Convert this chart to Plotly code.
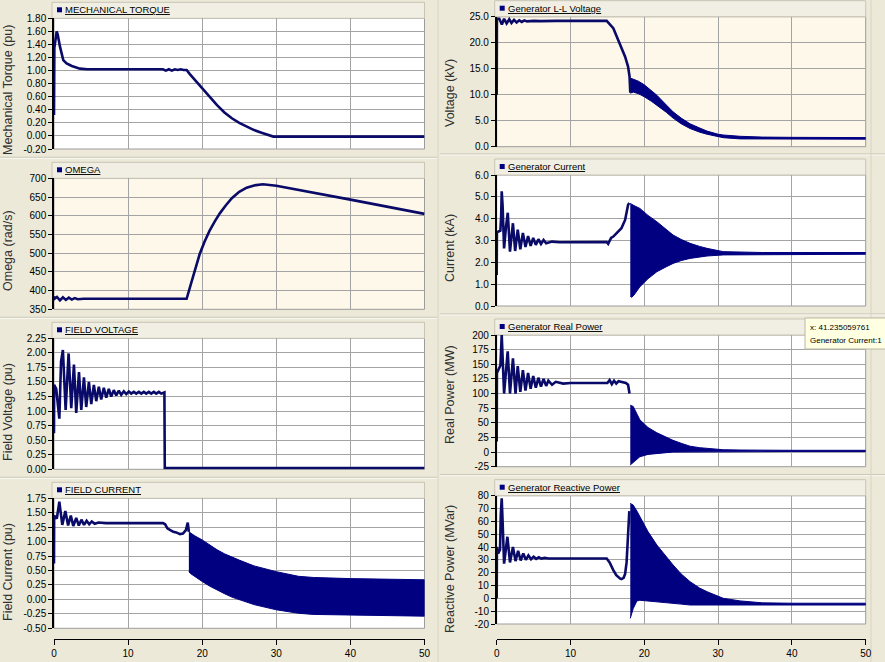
import plotly.graph_objects as go

# ---------------- data ----------------
x_ticks = [0, 10, 20, 30, 40, 50]
x_tick_labels = ["0", "10", "20", "30", "40", "50"]

# Mechanical torque (pu)
mt_t = [0, 0.05, 0.36, 0.5, 0.8, 1.0, 1.25, 1.7, 2.4, 3.5, 4.5, 6, 10, 14.7, 15.1, 15.5, 15.9, 16.3,
        16.7, 17.1, 17.5, 17.9, 18.3, 19, 20, 21, 22, 23, 24, 25, 26, 27, 28, 29, 29.6, 30, 40, 50]
mt_v = [0.32, 1.35, 1.60, 1.55, 1.37, 1.25, 1.16, 1.11, 1.07, 1.03, 1.02, 1.02, 1.02, 1.02, 1.00, 1.02,
        1.00, 1.02, 1.01, 1.02, 1.01, 1.01, 0.95, 0.86, 0.73, 0.59, 0.47, 0.36, 0.27, 0.20,
        0.14, 0.09, 0.05, 0.01, -0.01, -0.01, -0.01, -0.01]
mt_ticks = [-0.2, 0, 0.2, 0.4, 0.6, 0.8, 1.0, 1.2, 1.4, 1.6, 1.8]
mt_labels = ["-0.20", "0.00", "0.20", "0.40", "0.60", "0.80", "1.00", "1.20", "1.40", "1.60", "1.80"]

# Omega (rad/s)
om_t = [0, 0.05, 0.4, 0.8, 1.2, 1.6, 2.0, 2.4, 2.8, 3.2, 4, 6, 10, 17.9, 18.5, 19.0, 19.65, 20.3, 21.0,
        21.7, 22.4, 23.2, 24.0, 25.0, 26.0, 27.0, 28.2, 30, 33.1, 40, 50]
om_v = [385, 378, 383, 374, 382, 375, 381, 376, 380, 377, 378, 378, 378, 378, 419, 456, 497, 530, 560,
        585, 607, 628, 647, 664, 675, 681, 684, 680, 668, 643, 605]
om_ticks = [350, 400, 450, 500, 550, 600, 650, 700]
om_labels = ["350", "400", "450", "500", "550", "600", "650", "700"]

# Field voltage (pu)
fv_t = [0, 0.02, 0.3, 0.72, 0.95, 1.2, 1.57, 1.97, 2.33, 2.69, 3.0, 3.37, 3.68, 4.04, 4.35, 4.71, 5.03,
        5.38, 5.7, 6.05, 6.37, 6.72, 7.05, 7.4, 7.72, 8.07, 8.4, 8.75, 9.07, 9.42, 9.75, 10.1, 10.42,
        10.77, 11.1, 11.45, 11.78, 12.12, 12.45, 12.8, 13.12, 13.47, 13.8, 14.15, 14.47, 14.9, 14.95, 50]
fv_v = [0.62, 1.45, 1.38, 0.87, 1.85, 2.05, 1.02, 1.99, 1.05, 1.80, 0.97, 1.67, 1.02, 1.58, 1.07, 1.50,
        1.12, 1.45, 1.17, 1.42, 1.20, 1.40, 1.23, 1.38, 1.25, 1.36, 1.27, 1.35, 1.28, 1.34, 1.29, 1.335,
        1.30, 1.33, 1.30, 1.33, 1.30, 1.33, 1.30, 1.33, 1.30, 1.33, 1.30, 1.33, 1.30, 1.32, 0.02, 0.02]
fv_ticks = [0, 0.25, 0.5, 0.75, 1.0, 1.25, 1.5, 1.75, 2.0, 2.25]
fv_labels = ["0.00", "0.25", "0.50", "0.75", "1.00", "1.25", "1.50", "1.75", "2.00", "2.25"]

# Field current (pu)
fc_t = [0, 0.02, 0.38, 0.72, 1.12, 1.53, 1.9, 2.27, 2.6, 3.0, 3.35, 3.7, 4.05, 4.4, 4.75, 5.1, 5.5, 6,
        7, 8, 14.7, 15.0, 15.3, 15.7, 16.1, 16.5, 17.0, 17.4, 17.8, 18.05, 18.2]
fc_v = [0.62, 1.45, 1.40, 1.69, 1.29, 1.53, 1.28, 1.45, 1.27, 1.41, 1.28, 1.38, 1.29, 1.36, 1.30, 1.35,
        1.31, 1.33, 1.32, 1.32, 1.32, 1.30, 1.23, 1.20, 1.17, 1.16, 1.13, 1.14, 1.20, 1.33, 1.17]
fc_band_t = [18.2, 18.4, 19, 20, 21, 22, 23, 24, 25, 27, 30, 33, 35, 40, 45, 50]
fc_band_hi = [1.17, 1.15, 1.10, 1.03, 0.94, 0.86, 0.79, 0.73, 0.68, 0.58, 0.48, 0.40, 0.38, 0.36, 0.35, 0.34]
fc_band_lo = [0.48, 0.45, 0.39, 0.31, 0.23, 0.16, 0.10, 0.04, -0.01, -0.09, -0.18, -0.24, -0.26, -0.27,
              -0.28, -0.29]
fc_ticks = [-0.5, -0.25, 0, 0.25, 0.5, 0.75, 1.0, 1.25, 1.5, 1.75]
fc_labels = ["-0.50", "-0.25", "0.00", "0.25", "0.50", "0.75", "1.00", "1.25", "1.50", "1.75"]

# Generator L-L voltage (kV)
vl_t = [0, 0.03, 0.35, 0.7, 1.0, 1.35, 1.7, 2.0, 2.35, 2.7, 3.05, 3.4, 3.75, 4.1, 5, 6, 8, 10, 14.9,
        15.8, 16.7, 17.4, 17.8, 18.0, 18.1]
vl_v = [10.0, 24.6, 24.6, 23.5, 24.6, 23.7, 24.5, 23.8, 24.4, 23.9, 24.3, 24.0, 24.3, 24.1, 24.2, 24.15,
        24.2, 24.2, 24.2, 22.8, 19.9, 17.3, 15.4, 13.5, 10.4]
vl_band_t = [18.1, 18.5, 19.2, 20, 21, 21.7, 23, 23.9, 25, 26.2, 27.5, 28.5, 30, 30.7, 33, 36, 40, 45, 50]
vl_band_hi = [13.2, 13.0, 12.6, 11.9, 10.7, 9.9, 8.0, 6.7, 5.5, 4.4, 3.6, 3.0, 2.4, 2.25, 2.0, 1.85, 1.8,
              1.8, 1.75]
vl_band_lo = [10.3, 10.5, 10.2, 9.6, 8.7, 8.0, 6.6, 5.5, 4.4, 3.5, 2.8, 2.4, 1.9, 1.73, 1.5, 1.45, 1.45,
              1.45, 1.45]
vl_ticks = [0, 5, 10, 15, 20, 25]
vl_labels = ["0.0", "5.0", "10.0", "15.0", "20.0", "25.0"]

# Generator current (kA)
gc_t = [0, 0.03, 0.2, 0.5, 0.6, 0.68, 0.8, 1.0, 1.25, 1.5, 1.8, 2.0, 2.2, 2.5, 2.85, 3.2, 3.55, 3.9,
        4.25, 4.6, 4.95, 5.3, 5.65, 6.0, 6.35, 6.7, 7.5, 8.5, 10, 14.9, 15.1, 15.5, 15.8, 16.2, 16.9,
        17.4, 17.8, 17.97]
gc_v = [1.42, 3.4, 3.4, 3.45, 4.1, 5.25, 4.6, 2.64, 3.6, 4.27, 2.49, 3.2, 3.79, 2.52, 3.5, 2.6, 3.35,
        2.7, 3.2, 2.75, 3.12, 2.8, 3.06, 2.84, 3.02, 2.87, 2.95, 2.92, 2.93, 2.93, 2.85, 3.12, 3.18, 3.33,
        3.56, 3.94, 4.63, 4.72]
gc_band_t = [18.1, 18.3, 18.6, 19.4, 20.5, 21.7, 23, 23.9, 25, 26.2, 27.5, 28.5, 30.7, 33, 36, 40, 50]
gc_band_hi = [4.7, 4.65, 4.6, 4.47, 4.15, 3.86, 3.5, 3.25, 3.05, 2.87, 2.73, 2.64, 2.49, 2.46, 2.45,
              2.45, 2.45]
gc_band_lo = [0.45, 0.4, 0.5, 0.88, 1.25, 1.57, 1.8, 1.95, 2.08, 2.18, 2.25, 2.29, 2.34, 2.36, 2.37,
              2.37, 2.37]
gc_ticks = [0, 1, 2, 3, 4, 5, 6]
gc_labels = ["0.0", "1.0", "2.0", "3.0", "4.0", "5.0", "6.0"]

# Generator real power (MW)
rp_t = [0, 0.03, 0.2, 0.5, 0.68, 1.0, 1.49, 1.8, 2.2, 2.55, 2.85, 3.2, 3.55, 3.9, 4.25, 4.6, 4.95, 5.3,
        5.65, 6.0, 6.35, 6.7, 7.0, 7.5, 8, 9, 10, 12, 15, 15.3, 15.6, 15.9, 16.2, 16.5, 17.5, 17.8, 18.0]
rp_v = [18, 135, 140, 148, 200, 100, 172, 100, 160, 100, 147, 103, 140, 105, 135, 108, 130, 110, 127,
        112, 125, 113, 122, 115, 120, 117, 118, 118, 118, 123, 116, 122, 117, 121, 118, 115, 100]
rp_band_t = [18.1, 18.5, 19.4, 20.5, 21.7, 23, 23.9, 25, 26.2, 27.5, 28.5, 30.7, 33, 36, 40, 50]
rp_band_hi = [80, 78, 55, 42, 33, 25, 20, 15, 10, 7.5, 6, 4, 3.5, 3, 3, 3]
rp_band_lo = [-22, -18, -8, -4, -2, -1, 0, 0.5, 0.5, 1, 1, 1, 1, 1, 1, 1]
rp_ticks = [-25, 0, 25, 50, 75, 100, 125, 150, 175, 200]
rp_labels = ["-25", "0", "25", "50", "75", "100", "125", "150", "175", "200"]

# Generator reactive power (MVar)
rq_t = [0, 0.03, 0.2, 0.45, 0.55, 0.68, 0.8, 1.0, 1.45, 1.8, 2.2, 2.55, 2.9, 3.25, 3.6, 3.95, 4.3, 4.65,
        5.0, 5.35, 5.7, 6.05, 6.5, 7, 14.9, 15.3, 15.8, 16.2, 16.7, 16.9, 17.2, 17.4, 17.6, 17.8, 17.97]
rq_v = [0, 40, 35, 38, 65, 78, 60, 27, 48, 28, 40, 29, 37, 29.5, 35, 30, 33.5, 30.5, 32.5, 30.8, 32, 31,
        31.5, 31, 31, 28, 22, 18, 15.5, 15, 16, 19, 28, 49, 68]
rq_band_t = [18.1, 18.5, 19.0, 19.4, 20.5, 21.7, 23, 23.9, 25, 26.2, 27.5, 28.5, 30.7, 33, 36, 40, 50]
rq_band_hi = [74, 72.7, 68, 63.6, 52, 41.6, 32, 26, 19, 13, 8, 5.2, 0, -2, -3.5, -3.8, -3.8]
rq_band_lo = [-15.6, -8, -2, -1.5, -2, -2.6, -3.3, -3.9, -4.5, -5.2, -5.4, -5.5, -5.5, -5.3, -5.2, -5.2,
              -5.2]
rq_ticks = [-20, -10, 0, 10, 20, 30, 40, 50, 60, 70, 80]
rq_labels = ["-20", "-10", "0", "10", "20", "30", "40", "50", "60", "70", "80"]

# ---------------- layout / styling ----------------
W, H = 885, 662
LINE = "#0A0A68"
FILL = "#000080"
BG = "#ECE9D8"
GRID = "#A4A4A4"
FAM = "Liberation Sans Narrow, Arial Narrow, Liberation Sans, Arial, sans-serif"
TICKFONT = dict(family=FAM, size=10, color="#000000")
TITLEFONT = dict(family=FAM, size=9.5, color="#000000")
TIPFONT = dict(family=FAM, size=8, color="#000000")
YTFONT = dict(family="Liberation Sans, Arial, sans-serif", size=12.5, color="#303030")

LEFT_X = (54.0, 424.5)
RIGHT_X = (496.7, 865.7)

panels = [
    dict(t=mt_t, v=mt_v, band=None, ticks=mt_ticks, labels=mt_labels, col=LEFT_X, top=18.3, bot=149.0,
         title="MECHANICAL TORQUE", ytitle="Mechanical Torque (pu)", ytc=90, bg="#FFFFFF"),
    dict(t=om_t, v=om_v, band=None, ticks=om_ticks, labels=om_labels, col=LEFT_X, top=178.3, bot=309.3,
         title="OMEGA", ytitle="Omega (rad/s)", ytc=251, bg="#FEF8EA"),
    dict(t=fv_t, v=fv_v, band=None, ticks=fv_ticks, labels=fv_labels, col=LEFT_X, top=338.3, bot=469.3,
         title="FIELD VOLTAGE", ytitle="Field Voltage (pu)", ytc=412, bg="#FFFFFF"),
    dict(t=fc_t, v=fc_v, band=(fc_band_t, fc_band_hi, fc_band_lo), ticks=fc_ticks, labels=fc_labels,
         col=LEFT_X, top=498.3, bot=628.3, title="FIELD CURRENT", ytitle="Field Current (pu)", ytc=572,
         bg="#FFFFFF", bottom=True),
    dict(t=vl_t, v=vl_v, band=(vl_band_t, vl_band_hi, vl_band_lo), ticks=vl_ticks, labels=vl_labels,
         col=RIGHT_X, top=16.7, bot=146.7, title="Generator L-L Voltage", ytitle="Voltage (kV)", ytc=93,
         bg="#FEF8EA"),
    dict(t=gc_t, v=gc_v, band=(gc_band_t, gc_band_hi, gc_band_lo), ticks=gc_ticks, labels=gc_labels,
         col=RIGHT_X, top=175.0, bot=306.0, title="Generator Current", ytitle="Current (kA)", ytc=248,
         bg="#FFFFFF"),
    dict(t=rp_t, v=rp_v, band=(rp_band_t, rp_band_hi, rp_band_lo), ticks=rp_ticks, labels=rp_labels,
         col=RIGHT_X, top=335.0, bot=466.7, title="Generator Real Power", ytitle="Real Power (MW)", ytc=395,
         bg="#FFFFFF"),
    dict(t=rq_t, v=rq_v, band=(rq_band_t, rq_band_hi, rq_band_lo), ticks=rq_ticks, labels=rq_labels,
         col=RIGHT_X, top=495.7, bot=624.0, title="Generator Reactive Power", ytitle="Reactive Power (MVar)",
         ytc=569, bg="#FFFFFF", bottom=True),
]


def fx(px):
    return px / W


def fy(py):
    return 1 - py / H


fig = go.Figure()
layout = dict(
    template="none",
    width=W, height=H, margin=dict(l=0, r=0, t=0, b=0, autoexpand=False),
    paper_bgcolor=BG, plot_bgcolor="rgba(0,0,0,0)", showlegend=False,
    hovermode=False, font=dict(family=FAM, size=10, color="#000000"),
)
shapes = []
annotations = []

for i, p in enumerate(panels, start=1):
    xa = "x" if i == 1 else f"x{i}"
    ya = "y" if i == 1 else f"y{i}"
    xl, xr = p["col"]
    top, bot = p["top"], p["bot"]
    lo, hi = p["ticks"][0], p["ticks"][-1]

    # traces
    if p["band"] is not None:
        bt, bh, bl = p["band"]
        fig.add_trace(go.Scatter(x=list(bt) + list(bt)[::-1], y=list(bh) + list(bl)[::-1],
                                 xaxis=xa, yaxis=ya, mode="lines", fill="toself", fillcolor=FILL,
                                 line=dict(color=FILL, width=1), hoverinfo="skip"))
    fig.add_trace(go.Scatter(x=p["t"], y=p["v"], xaxis=xa, yaxis=ya, mode="lines",
                             line=dict(color=LINE, width=2.6), hoverinfo="skip"))

    xkey = "xaxis" if i == 1 else f"xaxis{i}"
    ykey = "yaxis" if i == 1 else f"yaxis{i}"
    xdict = dict(domain=[fx(xl), fx(xr)], range=[0, 50], anchor=ya, tickvals=x_ticks,
                 ticktext=x_tick_labels, showgrid=True, gridcolor=GRID, gridwidth=1, zeroline=False,
                 showline=False, showticklabels=False, ticks="", fixedrange=True, automargin=False)
    if p.get("bottom"):
        xdict.update(anchor="free", position=fy(638.5), showline=True, linecolor="#000000",
                     linewidth=1, ticks="outside", ticklen=5, tickcolor="#000000",
                     showticklabels=True, tickfont=TICKFONT)
    layout[xkey] = xdict
    layout[ykey] = dict(domain=[fy(bot), fy(top)], range=[lo, hi], anchor=xa, tickvals=p["ticks"],
                        ticktext=p["labels"], showgrid=True, gridcolor=GRID, gridwidth=1,
                        zeroline=False, showline=True, linecolor="#000000", linewidth=1.5,
                        ticks="outside", ticklen=4, tickcolor="#000000", tickfont=TICKFONT,
                        fixedrange=True, automargin=False)

    # plot area background
    shapes.append(dict(type="rect", xref="paper", yref="paper", x0=fx(xl), x1=fx(xr), y0=fy(bot),
                       y1=fy(top), fillcolor=p["bg"], line=dict(width=0), layer="below"))
    # plot area border (gray)
    shapes.append(dict(type="rect", xref="paper", yref="paper", x0=fx(xl), x1=fx(xr), y0=fy(bot),
                       y1=fy(top), fillcolor="rgba(0,0,0,0)", line=dict(color="#9C9C9C", width=1),
                       layer="below"))
    # title bar
    shapes.append(dict(type="rect", xref="paper", yref="paper", x0=fx(xl - 2), x1=fx(xr), y0=fy(top),
                       y1=fy(top - 16), fillcolor="#F1EFE4", line=dict(color="#C9C5B6", width=1),
                       layer="below"))
    # legend square marker
    mx = xl + 3
    shapes.append(dict(type="rect", xref="paper", yref="paper", x0=fx(mx), x1=fx(mx + 5),
                       y0=fy(top - 6), y1=fy(top - 11), fillcolor="#000080", line=dict(width=0),
                       layer="above"))
    # panel separator lines
    colx0, colx1 = (0, 437) if xl < 200 else (440, 885)
    shapes.append(dict(type="line", xref="paper", yref="paper", x0=fx(colx0), x1=fx(colx1),
                       y0=fy(top - 21), y1=fy(top - 21), line=dict(color="#C4C0B0", width=1),
                       layer="below"))
    shapes.append(dict(type="line", xref="paper", yref="paper", x0=fx(colx0), x1=fx(colx1),
                       y0=fy(top - 20), y1=fy(top - 20), line=dict(color="#FAFAF5", width=1),
                       layer="below"))

    annotations.append(dict(xref="paper", yref="paper", x=fx(xl + 9), y=fy(top - 8.5),
                            xanchor="left", yanchor="middle", showarrow=False, font=TITLEFONT,
                            text=f"<span style='text-decoration:underline'>{p['title']}</span>"))
    ytx = 8 if xl < 200 else 450
    annotations.append(dict(xref="paper", yref="paper", x=fx(ytx), y=fy(p["ytc"]), xanchor="center",
                            yanchor="middle", showarrow=False, textangle=-90, font=YTFONT,
                            text=p["ytitle"]))

# divider between the two columns
shapes.append(dict(type="line", xref="paper", yref="paper", x0=fx(438), x1=fx(438), y0=0, y1=1,
                   line=dict(color="#D8D4C4", width=1), layer="below"))
shapes.append(dict(type="line", xref="paper", yref="paper", x0=fx(871), x1=fx(871), y0=0, y1=1,
                   line=dict(color="#D8D4C4", width=1), layer="below"))

# hover tooltip box
shapes.append(dict(type="rect", xref="paper", yref="paper", x0=fx(805), x1=fx(890), y0=fy(349),
                   y1=fy(318), fillcolor="#FFFFE1", line=dict(color="#B8B8A8", width=1), layer="above"))
annotations.append(dict(xref="paper", yref="paper", x=fx(808), y=fy(327), xanchor="left",
                        yanchor="middle", showarrow=False, font=TIPFONT, text="x: 41.235059761"))
annotations.append(dict(xref="paper", yref="paper", x=fx(808), y=fy(340), xanchor="left",
                        yanchor="middle", showarrow=False, font=TIPFONT, text="Generator Current:1"))

layout["shapes"] = shapes
layout["annotations"] = annotations
fig.update_layout(**layout)
fig.write_html("out.html", config={"displayModeBar": False},
               post_script="document.body.style.margin='0';document.body.style.overflow='hidden';")
